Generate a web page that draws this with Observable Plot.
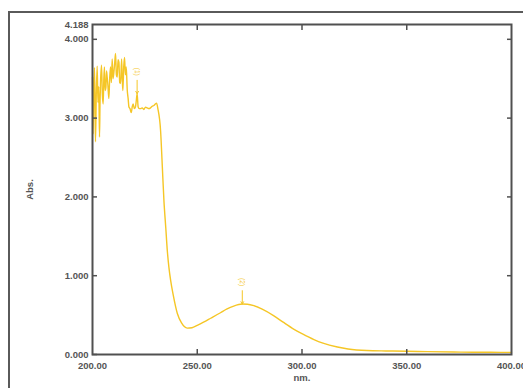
<!DOCTYPE html>
<html>
<head>
<meta charset="utf-8">
<script src="https://cdn.jsdelivr.net/npm/d3@7"></script>
<script src="https://cdn.jsdelivr.net/npm/@observablehq/plot@0.6"></script>
<style>
  html, body { margin: 0; padding: 0; background: #fff; overflow: hidden; }
  #wrap { position: relative; width: 523px; height: 388px; overflow: hidden; }
  #outer { position: absolute; left: 8px; top: 11px; width: 700px; height: 700px;
           border-left: 2px solid #5a5a5a; border-top: 2px solid #5a5a5a; }
  #chart { position: absolute; left: 0; top: 0; }
</style>
</head>
<body>
<div id="wrap"><div id="outer"></div><div id="chart"></div></div>
<script>
// Wavelength (nm) and absorbance
const wavelength = [
  200.0, 200.3, 200.6, 200.96, 201.2, 201.43, 201.8, 202.23, 202.6, 203.0,
  203.34, 203.6, 203.82, 204.3, 204.7, 205.1, 205.4, 205.7, 206.0, 206.4,
  206.7, 207.0, 207.4, 207.8, 208.2, 208.6, 209.0, 209.4, 209.8, 210.2,
  210.6, 211.0, 211.4, 211.8, 212.2, 212.6, 213.0, 213.4, 213.9, 214.2,
  214.5, 214.9, 215.3, 215.7, 216.1, 216.6, 217.0, 217.4, 217.9, 218.5,
  219.0, 219.4, 220.0, 220.5, 220.9, 221.3, 221.8, 222.3, 222.9, 223.7,
  224.5, 225.3, 226.1, 226.9, 227.7, 228.5, 229.3, 230.0, 230.6, 231.2,
  232.5, 233.3, 234.1, 235.0, 235.7, 236.5, 237.3, 238.5, 240.5, 242.5,
  245.2, 247.5, 250.0, 253.0, 256.4, 261.1, 264.0, 267.4, 271.5, 274.0,
  277.0, 281.0, 286.6, 291.0, 296.2, 300.0, 305.7, 310.0, 316.9, 322.0,
  331.0, 340.0, 350.0, 360.0, 375.8, 390.0, 400.0
];
const absorbance = [
  3.52, 2.80, 3.35, 3.64, 3.10, 2.70, 3.30, 3.66, 3.20, 3.40,
  2.76, 3.20, 3.44, 3.67, 3.30, 3.18, 3.50, 3.65, 3.35, 3.39,
  3.60, 3.52, 3.40, 3.25, 3.50, 3.65, 3.45, 3.75, 3.50, 3.58,
  3.70, 3.82, 3.55, 3.52, 3.74, 3.71, 3.45, 3.44, 3.75, 3.50,
  3.35, 3.65, 3.77, 3.55, 3.65, 3.35, 3.25, 3.14, 3.12, 3.07,
  3.15, 3.18, 3.12, 3.14, 3.22, 3.31, 3.14, 3.12, 3.12, 3.13,
  3.11, 3.14, 3.13, 3.12, 3.13, 3.15, 3.16, 3.18, 3.19, 3.12,
  2.84, 2.40, 1.95, 1.60, 1.32, 1.10, 0.94, 0.76, 0.52, 0.40,
  0.335, 0.34, 0.37, 0.41, 0.46, 0.53, 0.575, 0.615, 0.64, 0.638,
  0.62, 0.575, 0.49, 0.41, 0.32, 0.265, 0.19, 0.145, 0.095, 0.07,
  0.05, 0.045, 0.042, 0.036, 0.030, 0.028, 0.027
];
// Peak annotations
const peakNm = [221.3, 271.5];
const peakAbs = [3.31, 0.64];
const peakLabels = ["(1)", "(2)"];
// Axis ticks
const xTicks = [200, 250, 300, 350, 400];
const xInnerTicks = [250, 300, 350];
const yTicks = [0, 1, 2, 3, 4, 4.188];
const yInnerTicks = [1, 2, 3, 4];

const spectrum = wavelength.map((w, i) => ({nm: w, abs: absorbance[i]}));
const peaks = peakNm.map((w, i) => ({nm: w, abs: peakAbs[i], label: peakLabels[i]}));

const lineColor = "#f5c626";
const axisColor = "#505050";

const chart = Plot.plot({
  width: 523,
  height: 388,
  marginLeft: 92,
  marginTop: 24,
  marginRight: 12,
  marginBottom: 34,
  style: {fontFamily: "'Liberation Sans', Arial, sans-serif", fontSize: "9.5px", fontWeight: "bold", color: "#555", background: "transparent"},
  x: {domain: [200, 400]},
  y: {domain: [0, 4.188]},
  marks: [
    Plot.line(spectrum, {x: "nm", y: "abs", stroke: lineColor, strokeWidth: 1.4, curve: "monotone-x"}),
    Plot.arrow(peaks, {x1: "nm", x2: "nm", y1: d => d.abs + 0.17, y2: "abs", stroke: lineColor, strokeWidth: 1, headLength: 4, bend: 0}),
    Plot.text(peaks, {x: "nm", y: "abs", text: "label", dy: -22, rotate: 90, fill: lineColor, fontSize: 6.5, fontWeight: "normal"}),
    Plot.frame({stroke: axisColor, strokeWidth: 2}),
    Plot.axisY({anchor: "left", ticks: yTicks, tickSize: 0, tickPadding: 4, tickFormat: d3.format(".3f"),
      label: "Abs.", labelAnchor: "center", labelOffset: 66, labelArrow: "none", fill: "#555"}),
    Plot.axisY({anchor: "left", ticks: [0, 1, 2, 3, 4], tickSize: -5, text: null, label: null, stroke: axisColor, strokeWidth: 1.5}),
    Plot.axisY({anchor: "right", ticks: yInnerTicks, tickSize: -5, text: null, label: null, stroke: axisColor, strokeWidth: 1.5}),
    Plot.axisX({anchor: "bottom", ticks: xTicks, tickSize: 0, tickPadding: 8, tickFormat: d3.format(".2f"),
      label: "nm.", labelAnchor: "center", labelOffset: 26, labelArrow: "none", fill: "#555"}),
    Plot.axisX({anchor: "bottom", ticks: xInnerTicks, tickSize: -5, text: null, label: null, stroke: axisColor, strokeWidth: 1.5}),
    Plot.axisX({anchor: "top", ticks: xInnerTicks, tickSize: -5, text: null, label: null, stroke: axisColor, strokeWidth: 1.5})
  ]
});
document.getElementById("chart").appendChild(chart);
</script>
</body>
</html>
